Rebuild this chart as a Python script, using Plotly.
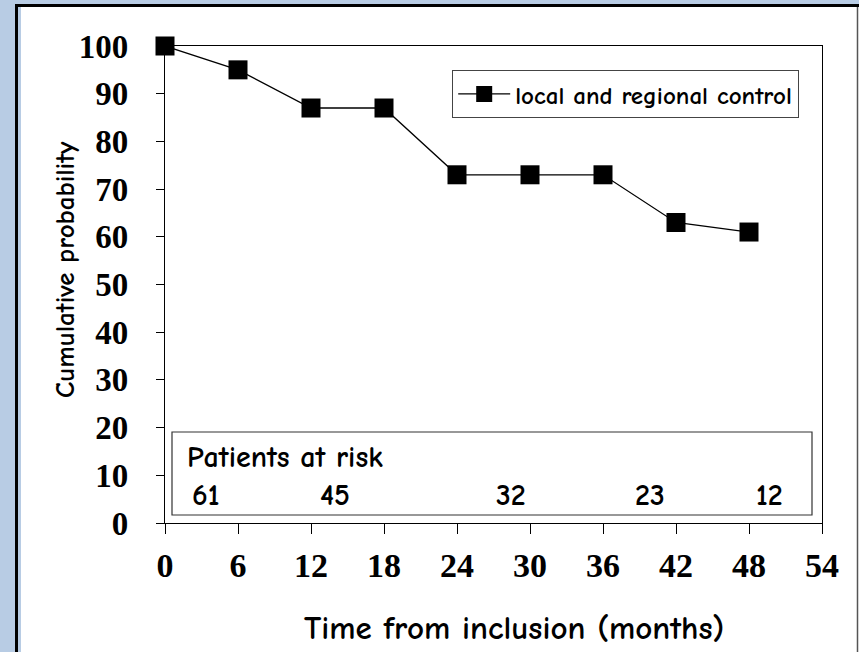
import plotly.graph_objects as go

# ---- data ----
months = [0, 6, 12, 18, 24, 30, 36, 42, 48]
probability = [100, 95, 87, 87, 73, 73, 73, 63, 61]
series_name = "local and regional control"
x_ticks = [0, 6, 12, 18, 24, 30, 36, 42, 48, 54]
y_ticks = [0, 10, 20, 30, 40, 50, 60, 70, 80, 90, 100]
x_title = "Time from inclusion (months)"
y_title = "Cumulative probability"
risk_title = "Patients at risk"
risk_counts = ["61", "45", "32", "23", "12"]

# ---- styling / positions ----
risk_label_x = [3.3, 14.0, 28.4, 39.9, 49.7]  # data x of count labels
W, H = 859, 652
L, R, T, B = 165, 37, 46, 129
pw, ph = W - L - R, H - T - B

def px(x):
    return (x - L) / pw

def py(y):
    return (H - B - y) / ph

comic = "Comic Sans MS, Comic Neue, Noto Sans, sans-serif"
serif = "Liberation Serif, Times New Roman, serif"
blue = "#b8cce4"

fig = go.Figure()
fig.add_trace(go.Scatter(
    x=months, y=probability, mode="lines+markers", name=series_name,
    line=dict(color="black", width=1.3),
    marker=dict(symbol="square", size=19, color="black"),
    cliponaxis=False,
))

shapes = [
    # panel
    dict(type="rect", xref="paper", yref="paper", layer="below",
         x0=px(15), x1=px(860), y0=py(660), y1=py(4),
         fillcolor="white", line=dict(width=0)),
    dict(type="line", xref="paper", yref="paper", layer="below",
         x0=px(16.5), x1=px(16.5), y0=py(660), y1=py(4), line=dict(color="black", width=3)),
    dict(type="line", xref="paper", yref="paper", layer="below",
         x0=px(15), x1=px(860), y0=py(5.5), y1=py(5.5), line=dict(color="black", width=3)),
    dict(type="line", xref="paper", yref="paper", layer="below",
         x0=px(19.5), x1=px(19.5), y0=py(660), y1=py(7), line=dict(color=blue, width=3)),
    dict(type="line", xref="paper", yref="paper", layer="below",
         x0=px(857.5), x1=px(857.5), y0=py(660), y1=py(7), line=dict(color="#555555", width=1.5)),
    # patients at risk box
    dict(type="rect", xref="paper", yref="paper",
         x0=px(172), x1=px(812), y0=py(515), y1=py(432),
         fillcolor="rgba(0,0,0,0)", line=dict(color="#333333", width=1.2)),
]

annotations = [
    dict(x=px(185), y=py(457), xref="paper", yref="paper", text=risk_title,
         showarrow=False, xanchor="left", yanchor="middle",
         font=dict(family=comic, size=30, color="black", weight="bold")),
    dict(x=px(514), y=py(628), xref="paper", yref="paper", text=x_title,
         showarrow=False, xanchor="center", yanchor="middle",
         font=dict(family=comic, size=33, color="black", weight="bold")),
    dict(x=px(65), y=py(270), xref="paper", yref="paper", text=y_title,
         showarrow=False, xanchor="center", yanchor="middle", textangle=-90,
         font=dict(family=comic, size=27, color="black", weight="bold")),
]
for xv, c in zip(risk_label_x, risk_counts):
    annotations.append(dict(x=xv, y=py(495), xref="x", yref="paper", text=c,
                            showarrow=False, xanchor="center", yanchor="middle",
                            font=dict(family=comic, size=30, color="black", weight="bold")))

fig.update_layout(
    width=W, height=H,
    margin=dict(l=L, r=R, t=T, b=B),
    paper_bgcolor=blue,
    plot_bgcolor="white",
    showlegend=True,
    legend=dict(x=px(452), y=py(70), xanchor="left", yanchor="top",
                bgcolor="white", bordercolor="#444444", borderwidth=1.2,
                font=dict(family=comic, size=25, color="black", weight="bold"),
                itemwidth=52),
    shapes=shapes,
    annotations=annotations,
    xaxis=dict(range=[0, 54], tickvals=x_ticks, ticks="outside", ticklen=10,
               tickcolor="black", showline=True, linecolor="black", linewidth=1.2,
               mirror=True, showgrid=False, zeroline=False,
               tickfont=dict(family=serif, size=34, color="black", weight="bold"),
               ticklabelstandoff=2),
    yaxis=dict(range=[0, 100], tickvals=y_ticks, ticks="outside", ticklen=8,
               tickcolor="black", showline=True, linecolor="black", linewidth=1.2,
               mirror=True, showgrid=False, zeroline=False,
               tickfont=dict(family=serif, size=33, color="black", weight="bold"),
               ticklabelstandoff=21),
)

fig.write_html(
    "out.html",
    config={"displayModeBar": False},
    post_script="document.body.style.margin='0';document.body.style.background='" + blue + "';document.body.style.overflow='hidden';",
)
